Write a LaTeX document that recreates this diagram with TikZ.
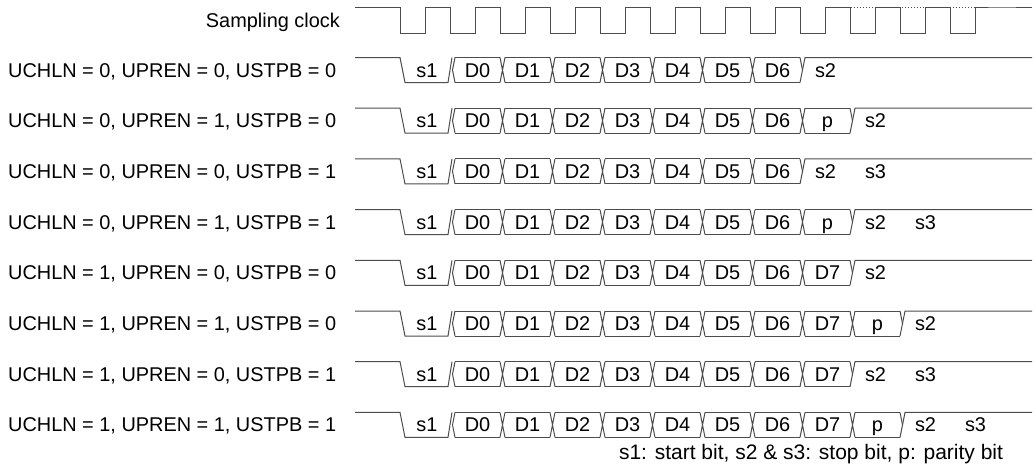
\documentclass[tikz,border=0pt]{standalone}
\usepackage{fontspec}
\setmainfont{Liberation Sans}
\usetikzlibrary{positioning}

\begin{document}
\begin{tikzpicture}[
    x=1pt, y=-1pt,
    sig/.style={draw=black!70, line width=1pt},
    clk/.style={draw=black!70, line width=1pt},
    lbl/.style={font=\fontsize{19.9}{22}\selectfont, inner sep=0pt},
    bit/.style={font=\fontsize{19.9}{22}\selectfont, inner sep=0pt, anchor=base}
]
    \useasboundingbox (0,0) rectangle (1036,467);

    % sampling clock
    \node[lbl, anchor=base east] (clklab) at (340,27) {Sampling clock};
    \draw[clk] (355,7) -- (400.5,7)
        \foreach \k in {0,...,11} { -- ++(0,26) -- ++(25,0) -- ++(0,-26) -- ++(25,0) }
        -- (1032,7);
    \draw[clk, dotted] (850.5,7) -- (975.5,7);

    % frames
    \foreach \nb/\pb/\sb/\txt [count=\i from 0] in {
        7/0/1/{UCHLN = 0, UPREN = 0, USTPB = 0},
        7/1/1/{UCHLN = 0, UPREN = 1, USTPB = 0},
        7/0/2/{UCHLN = 0, UPREN = 0, USTPB = 1},
        7/1/2/{UCHLN = 0, UPREN = 1, USTPB = 1},
        8/0/1/{UCHLN = 1, UPREN = 0, USTPB = 0},
        8/1/1/{UCHLN = 1, UPREN = 1, USTPB = 0},
        8/0/2/{UCHLN = 1, UPREN = 0, USTPB = 1},
        8/1/2/{UCHLN = 1, UPREN = 1, USTPB = 1}}
    {
        \pgfmathsetmacro\yc{70+50.7*\i}
        \pgfmathsetmacro\yt{\yc-12.5}
        \pgfmathsetmacro\yb{\yc+12.5}
        \pgfmathtruncatemacro\nc{\nb+\pb}
        \pgfmathtruncatemacro\nl{\nc-1}
        \pgfmathsetmacro\ce{452.5+50*\nc}
        \node[lbl, anchor=base west] (lab\i) at (8,\yc+7) {\txt};

        % idle and start bit
        \draw[sig] (355,\yt) -- (400,\yt) -- (405,\yb) -- (448,\yb) -- (452,\yt);
        \draw[sig] (455,\yt) -- (452.5,\yc) -- (455,\yb);
        \node[bit] (s1-\i) at (427,\yc+7) {s1};

        % data and parity
        \foreach \k in {0,...,\nl} {
            \pgfmathsetmacro\xa{452.5+50*\k}
            \pgfmathsetmacro\xb{\xa+50}
            \draw[sig] (\xa+2.5,\yt) -- (\xb-2.5,\yt) (\xa+2.5,\yb) -- (\xb-2.5,\yb);
            \ifnum\k>0
                \draw[sig] (\xa-2.5,\yt) -- (\xa+2.5,\yb) (\xa-2.5,\yb) -- (\xa+2.5,\yt);
            \fi
            \ifnum\k<\nb \def\bt{D\k}\else\def\bt{p}\fi
            \node[bit] (d\i-\k) at (\xa+25,\yc+7) {\bt};
        }

        % stop bits
        \draw[sig] (\ce-2.5,\yt) -- (\ce,\yc);
        \draw[sig] (\ce-2.5,\yb) -- (\ce+2.5,\yt) -- (1032,\yt);
        \node[bit] (s2-\i) at (\ce+23,\yc+7) {s2};
        \ifnum\sb=2 \node[bit] (s3-\i) at (\ce+73,\yc+7) {s3}; \fi
    }

    \node[lbl, anchor=base, font=\fontsize{21}{24}\selectfont] (note) at (811,459) {s1: start bit, s2 \& s3: stop bit, p: parity bit};
\end{tikzpicture}
\end{document}
